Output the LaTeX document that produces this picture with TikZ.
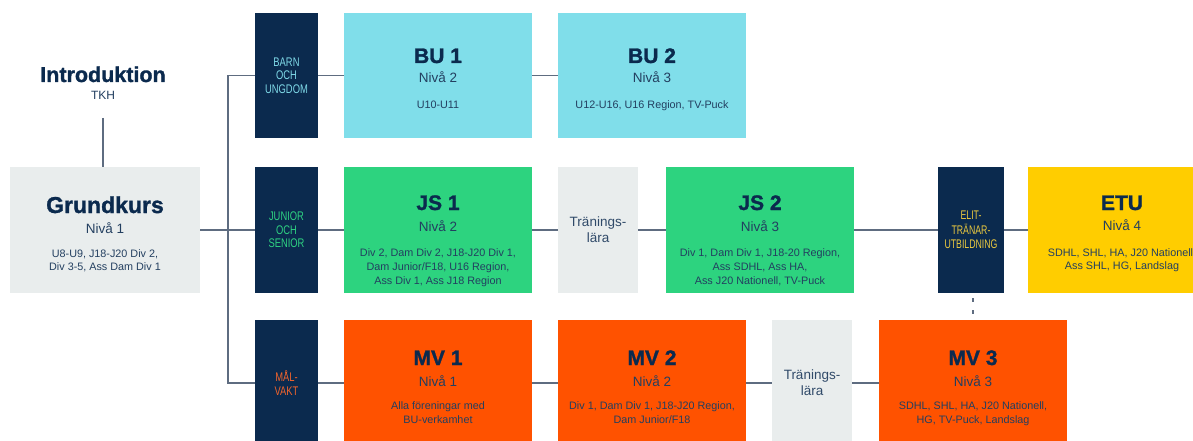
\documentclass[tikz,border=0pt]{standalone}
\usepackage{fontspec}
\setmainfont{Liberation Sans}
\newfontfamily\heavyfont{Liberation Sans}[BoldFeatures={FakeBold=1.3}]
\definecolor{navy}{HTML}{0B2A4E}
\definecolor{cyanbox}{HTML}{80DEEA}
\definecolor{greenbox}{HTML}{2DD37F}
\definecolor{graybox}{HTML}{E9EDED}
\definecolor{yellowbox}{HTML}{FFCD00}
\definecolor{orangebox}{HTML}{FF5200}
\definecolor{linecol}{HTML}{5E6C80}
\definecolor{labcyan}{HTML}{7FD9E8}
\definecolor{labgreen}{HTML}{2ED282}
\definecolor{labyellow}{HTML}{EBC93F}
\definecolor{laborange}{HTML}{F2642C}
\newcommand\cnd[1]{\scalebox{0.75}[1]{#1}}
\newcommand\cnde[1]{\scalebox{0.7}[1]{#1}}
\begin{document}
\begin{tikzpicture}[x=1pt,y=-1pt,
  box/.style={inner sep=0pt, outer sep=0pt, minimum width=188pt, minimum height=126pt},
  darkbox/.style={box, fill=navy, minimum width=63pt, align=center, font=\fontsize{12.5}{13.5}\selectfont},
  grayb/.style={box, fill=graybox, minimum width=80pt, align=center, text=navy!85, font=\fontsize{13.5}{16}\selectfont},
  ttl/.style={inner sep=0pt, anchor=base, text=navy, font=\heavyfont\fontsize{21}{25}\selectfont\bfseries},
  niv/.style={inner sep=0pt, anchor=base, text=navy!90, font=\fontsize{13.5}{16}\selectfont},
  det/.style={inner sep=0pt, anchor=base, align=center, text=navy!90, font=\fontsize{10.8}{14}\selectfont},
  conn/.style={draw=linecol, line width=1.4pt},
]
\clip (0,0) rectangle (1193,441);
\fill[white] (0,0) rectangle (1193,441);
% left column
\node[ttl, font=\heavyfont\fontsize{21.5}{25}\selectfont\bfseries] (intro) at (103,82) {Introduktion};
\node[niv, font=\fontsize{12}{14}\selectfont] (tkh) at (103,100) {TKH};
\coordinate (introend) at (103,118);
\node[box, fill=graybox, minimum width=190pt] (grund) at (105,230) {};
\node[ttl, font=\heavyfont\fontsize{23}{27}\selectfont\bfseries] (grundt) at (105,213) {Grundkurs};
\node[niv] (grundn) at (105,233) {Nivå 1};
% base anchor of a multi-line node = baseline of its last line
\node[det, font=\fontsize{10.8}{13}\selectfont] (grundd) at (105,270) {U8-U9, J18-J20 Div 2,\\Div 3-5, Ass Dam Div 1};
% dark label boxes
\node[darkbox, minimum height=125pt, text=labcyan] (bulab) at (286.5,75.5) {\cnd{BARN}\\\cnd{OCH}\\\cnd{UNGDOM}};
\node[darkbox, text=labgreen] (jslab) at (286.5,230) {\cnd{JUNIOR}\\\cnd{OCH}\\\cnd{SENIOR}};
\node[darkbox, text=laborange] (mvlab) at (286.5,383) {\cnd{MÅL-}\\\cnd{VAKT}};
\node[darkbox, minimum width=66pt, text=labyellow, font=\fontsize{12.5}{14.5}\selectfont] (elit) at (971,230) {\cnde{ELIT-}\\\cnde{TRÄNAR-}\\\cnde{UTBILDNING}};
% BU row
\node[box, fill=cyanbox, minimum height=125pt] (bu1) at (438,75.5) {};
\node[ttl] (bu1t) at (438,63) {BU 1};
\node[niv] (bu1n) at (438,83) {Nivå 2};
\node[det] (bu1d) at (438,109) {U10-U11};
\node[box, fill=cyanbox, minimum height=125pt] (bu2) at (652,75.5) {};
\node[ttl] (bu2t) at (652,63) {BU 2};
\node[niv] (bu2n) at (652,83) {Nivå 3};
\node[det] (bu2d) at (652,109) {U12-U16, U16 Region, TV-Puck};
% JS row
\node[box, fill=greenbox] (js1) at (438,230) {};
\node[ttl] (js1t) at (438,210) {JS 1};
\node[niv] (js1n) at (438,231) {Nivå 2};
\node[det] (js1d) at (438,284.5) {Div 2, Dam Div 2, J18-J20 Div 1,\\Dam Junior/F18, U16 Region,\\Ass Div 1, Ass J18 Region};
\node[grayb] (tr1) at (598,230) {Tränings-\\lära};
\node[box, fill=greenbox] (js2) at (760,230) {};
\node[ttl] (js2t) at (760,210) {JS 2};
\node[niv] (js2n) at (760,231) {Nivå 3};
\node[det] (js2d) at (760,284.5) {Div 1, Dam Div 1, J18-20 Region,\\Ass SDHL, Ass HA,\\Ass J20 Nationell, TV-Puck};
\node[box, fill=yellowbox] (etu) at (1122,230) {};
\node[ttl] (etut) at (1122,210) {ETU};
\node[niv] (etun) at (1122,230) {Nivå 4};
\node[det, font=\fontsize{10.8}{13.5}\selectfont] (etud) at (1122,269.5) {SDHL, SHL, HA, J20 Nationell,\\Ass SHL, HG, Landslag};
% MV row
\node[box, fill=orangebox] (mv1) at (438,383) {};
\node[ttl] (mv1t) at (438,365) {MV 1};
\node[niv] (mv1n) at (438,386) {Nivå 1};
\node[det] (mv1d) at (438,423) {Alla föreningar med\\BU-verkamhet};
\node[box, fill=orangebox] (mv2) at (652,383) {};
\node[ttl] (mv2t) at (652,365) {MV 2};
\node[niv] (mv2n) at (652,386) {Nivå 2};
\node[det] (mv2d) at (652,423) {Div 1, Dam Div 1, J18-J20 Region,\\Dam Junior/F18};
\node[grayb] (tr2) at (812,383) {Tränings-\\lära};
\node[box, fill=orangebox] (mv3) at (973,383) {};
\node[ttl] (mv3t) at (973,365) {MV 3};
\node[niv] (mv3n) at (973,386) {Nivå 3};
\node[det] (mv3d) at (973,423) {SDHL, SHL, HA, J20 Nationell,\\HG, TV-Puck, Landslag};
% connectors
\coordinate (vtop) at (228,75.5);
\coordinate (vbot) at (228,383);
\draw[conn] (introend) -- (introend |- grund.north);
\draw[conn] (grund.east) -- (jslab.west);
\draw[conn] (bulab.west) -- (vtop) -- (vbot) -- (mvlab.west);
\draw[conn] (bulab) -- (bu1) -- (bu2);
\draw[conn] (jslab) -- (js1) -- (tr1) -- (js2) -- (elit) -- (etu);
\draw[conn] (mvlab) -- (mv1) -- (mv2) -- (tr2) -- (mv3);
\draw[conn, dash pattern=on 4pt off 8pt, dash phase=7pt] (mv3.north |- elit.south) -- (mv3.north);
\end{tikzpicture}
\end{document}
